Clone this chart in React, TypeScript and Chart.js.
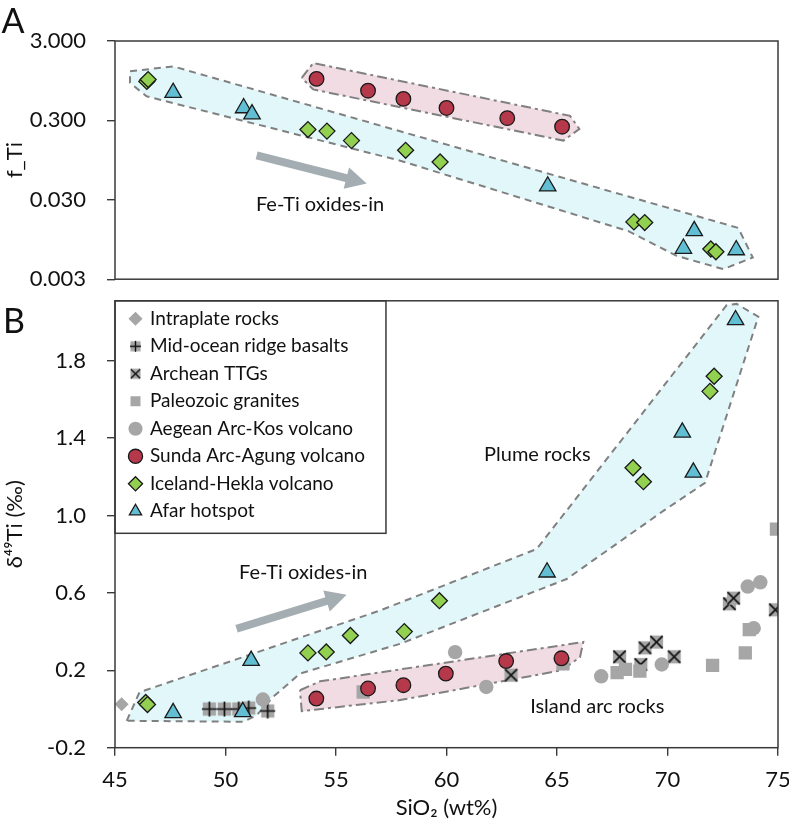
import React, { useEffect, useRef } from 'react';
import { Chart, registerables } from 'chart.js';
Chart.register(...registerables);

const FONT = 'Lato, "Open Sans", "DejaVu Sans", sans-serif';
Chart.defaults.font.family = FONT;
Chart.defaults.color = '#111';

// ---------- axes ----------
const SIO2_TICKS = [45, 50, 55, 60, 65, 70, 75];
const FTI_TICKS = [0.003, 0.03, 0.3, 3];
const D49_TICKS = [-0.2, 0.2, 0.6, 1.0, 1.4, 1.8];

// ---------- panel A : f_Ti ----------
const afarA_SiO2 = [47.63, 50.82, 51.2, 64.58, 70.72, 71.21, 73.11];
const afarA_fTi = [0.67, 0.43, 0.36, 0.0445, 0.0073, 0.0122, 0.007];
const icelandA_SiO2 = [46.44, 46.5, 53.73, 54.59, 55.7, 58.15, 59.71, 68.48, 68.97, 71.96, 72.19];
const icelandA_fTi = [0.93, 0.98, 0.23, 0.22, 0.167, 0.126, 0.09, 0.0158, 0.0155, 0.0072, 0.00665];
const sundaA_SiO2 = [54.12, 56.45, 58.05, 60.0, 62.75, 65.23];
const sundaA_fTi = [1.0, 0.71, 0.56, 0.43, 0.32, 0.25];

// ---------- panel B : d49Ti ----------
const intraplate_SiO2 = [45.3];
const intraplate_d49 = [0.025];
const morb_SiO2 = [49.27, 49.95, 50.6, 51.05, 51.91];
const morb_d49 = [0.0, 0.0, 0.0, 0.005, -0.01];
const archean_SiO2 = [62.92, 67.83, 68.79, 68.98, 69.5, 70.3, 72.8, 72.99, 74.88];
const archean_d49 = [0.175, 0.27, 0.23, 0.316, 0.346, 0.27, 0.544, 0.573, 0.513];
const paleozoic_SiO2 = [56.23, 65.27, 67.72, 68.1, 68.75, 72.04, 73.52, 73.7, 74.93];
const paleozoic_d49 = [0.088, 0.234, 0.188, 0.205, 0.196, 0.226, 0.29, 0.41, 0.93];
const aegean_SiO2 = [51.69, 60.39, 61.8, 67.0, 69.74, 73.63, 74.2, 73.9];
const aegean_d49 = [0.049, 0.294, 0.114, 0.169, 0.23, 0.633, 0.655, 0.418];
const sunda_SiO2 = [54.11, 56.45, 58.05, 59.97, 62.7, 65.2];
const sunda_d49 = [0.054, 0.106, 0.123, 0.183, 0.248, 0.262];
const iceland_SiO2 = [46.39, 46.47, 53.73, 54.56, 55.65, 58.09, 59.68, 68.44, 68.91, 71.92, 72.11];
const iceland_d49 = [0.034, 0.023, 0.29, 0.295, 0.38, 0.4, 0.56, 1.247, 1.175, 1.642, 1.72];
const afar_SiO2 = [47.63, 50.78, 51.16, 64.55, 70.67, 71.17, 73.08];
const afar_d49 = [-0.02, -0.015, 0.25, 0.707, 1.43, 1.223, 2.011];

// ---------- shaded fields ----------
const plumeA_SiO2 = [45.68, 47.64, 73.2, 73.86, 72.52, 70.42, 68.23, 57.9, 46.43, 45.68];
const plumeA_fTi = [1.245, 1.436, 0.01328, 0.005625, 0.00402, 0.0059, 0.01208, 0.0933, 0.603, 0.892];
const arcA_SiO2 = [53.45, 53.97, 65.59, 66.01, 65.29, 53.97];
const arcA_fTi = [1.03, 1.583, 0.342, 0.234, 0.167, 0.736];
const plumeB_SiO2 = [45.53, 46.11, 56.99, 64.08, 72.68, 73.13, 74.11, 71.7, 69.81, 65.44, 57.9, 53.37, 52.16, 51.41, 50.81];
const plumeB_d49 = [-0.061, 0.087, 0.509, 0.827, 2.088, 2.094, 2.028, 1.169, 1.024, 0.672, 0.337, 0.183, 0.063, -0.032, -0.066];
const arcB_SiO2 = [53.37, 54.28, 66.19, 66.04, 65.21, 57.9, 53.45];
const arcB_d49 = [0.097, 0.143, 0.346, 0.268, 0.2, 0.046, -0.011];

// ---------- annotations ----------
const arrowA = [[51.41, 0.109], [56.39, 0.0483]];
const arrowB = [[50.5, 0.415], [55.48, 0.59]];
const labelsA = [{ text: 'Fe-Ti oxides-in', x: 54.28, y: 0.026 }];
const labelsB = [
  { text: 'Fe-Ti oxides-in', x: 53.52, y: 0.706 },
  { text: 'Plume rocks', x: 64.11, y: 1.316 },
  { text: 'Island arc rocks', x: 66.82, y: 0.011 },
];

const C_GREEN = '#92d050';
const C_BLUE = '#62bfd3';
const C_RED = '#b5384b';
const C_GREY = '#a6a6a6';
const C_EDGE = '#1a1a1a';

const pts = (xs: number[], ys: number[]) => xs.map((x, i) => ({ x, y: ys[i] }));
const closed = (xs: number[], ys: number[]) => {
  const p = pts(xs, ys);
  return [...p, p[0]];
};

function crossMarker(kind: 'plus' | 'x', size: number) {
  const c = document.createElement('canvas');
  c.width = size; c.height = size;
  const g = c.getContext('2d')!;
  const sq = size * 0.78;
  const o = (size - sq) / 2;
  g.fillStyle = C_GREY;
  g.fillRect(o, o, sq, sq);
  g.strokeStyle = '#111';
  g.lineWidth = size > 14 ? 1.7 : 1.4;
  g.beginPath();
  const m = size / 2;
  if (kind === 'plus') {
    g.moveTo(m, 1); g.lineTo(m, size - 1);
    g.moveTo(1, m); g.lineTo(size - 1, m);
  } else {
    const a = o + 0.5, b = size - o - 0.5;
    g.moveTo(a, a); g.lineTo(b, b);
    g.moveTo(b, a); g.lineTo(a, b);
  }
  g.stroke();
  return c;
}

function region(data: any[], fill: string, dash: number[]) {
  return {
    type: 'line' as const,
    data,
    isRegion: true,
    fill: 'shape',
    backgroundColor: fill,
    borderColor: '#808080',
    borderWidth: 2,
    borderDash: dash,
    pointRadius: 0,
    tension: 0,
    order: 30,
  };
}

function drawArrow(ctx: CanvasRenderingContext2D, x1: number, y1: number, x2: number, y2: number) {
  const ang = Math.atan2(y2 - y1, x2 - x1);
  const L = Math.hypot(x2 - x1, y2 - y1);
  const headLen = 21, headW = 11, shaftW = 4;
  ctx.save();
  ctx.translate(x1, y1);
  ctx.rotate(ang);
  ctx.fillStyle = '#a3adb2';
  ctx.beginPath();
  ctx.moveTo(0, -shaftW);
  ctx.lineTo(L - headLen, -shaftW);
  ctx.lineTo(L - headLen, -headW);
  ctx.lineTo(L, 0);
  ctx.lineTo(L - headLen, headW);
  ctx.lineTo(L - headLen, shaftW);
  ctx.lineTo(0, shaftW);
  ctx.closePath();
  ctx.fill();
  ctx.restore();
}

function decorPlugin(opts: { letter: string; lx: number; ly: number; arrow: number[][]; labels: { text: string; x: number; y: number }[]; legendBox?: boolean }) {
  return {
    id: 'decor',
    beforeDraw(chart: any) {
      if (opts.legendBox && chart.legend) {
        chart.legend.left = chart.chartArea.left + 7;
        chart.legend.top = chart.chartArea.top;
      }
    },
    afterDraw(chart: any) {
      const { ctx, chartArea: a, scales } = chart;
      const xs = scales.x, ys = scales.y;
      ctx.save();
      ctx.strokeStyle = '#3a3a3a';
      ctx.lineWidth = 1.5;
      ctx.strokeRect(a.left, a.top, a.right - a.left, a.bottom - a.top);
      drawArrow(ctx, xs.getPixelForValue(opts.arrow[0][0]), ys.getPixelForValue(opts.arrow[0][1]),
        xs.getPixelForValue(opts.arrow[1][0]), ys.getPixelForValue(opts.arrow[1][1]));
      ctx.fillStyle = '#111';
      ctx.font = `20px ${FONT}`;
      ctx.textAlign = 'center';
      ctx.textBaseline = 'middle';
      for (const l of opts.labels) ctx.fillText(l.text, xs.getPixelForValue(l.x), ys.getPixelForValue(l.y));
      ctx.font = `34px ${FONT}`;
      ctx.fillText(opts.letter, opts.lx, opts.ly);
      if (opts.legendBox && chart.legend && chart.legend.legendItems?.length) {
        const lg = chart.legend;
        const items = lg.legendItems;
        const fs = 19, pad = 8.5, bw = 10;
        ctx.font = `${fs}px ${FONT}`;
        let maxW = 0;
        for (const it of items) maxW = Math.max(maxW, ctx.measureText(it.text).width);
        const right = lg.left + pad + bw + fs / 2 + maxW + 21;
        const bottom = a.top + pad + items.length * (fs + pad) + 4;
        ctx.strokeStyle = '#3a3a3a';
        ctx.lineWidth = 1.5;
        ctx.strokeRect(a.left, a.top, right - a.left, bottom - a.top);
      }
      ctx.restore();
    },
  };
}

const zeroPad = (s: any) => { s.paddingTop = 0; s.paddingBottom = 0; s.paddingLeft = 0; s.paddingRight = 0; };

const yAxisCommon = (title: string) => ({
  afterFit: (s: any) => { s.width = 115; zeroPad(s); },
  border: { display: false },
  grid: { display: true, drawOnChartArea: false, drawTicks: true, tickLength: 8, color: '#3a3a3a', lineWidth: 1.4 },
  title: { display: true, text: title, font: { size: 22 }, color: '#111', padding: { top: 2, bottom: 4 } },
});

function configA() {
  return {
    type: 'scatter' as const,
    data: {
      datasets: [
        { label: 'Iceland-Hekla volcano', data: pts(icelandA_SiO2, icelandA_fTi), pointStyle: 'rectRot', pointRadius: 8, backgroundColor: C_GREEN, borderColor: C_EDGE, borderWidth: 1.3, order: 2 },
        { label: 'Afar hotspot', data: pts(afarA_SiO2, afarA_fTi), pointStyle: 'triangle', pointRadius: 9.5, backgroundColor: C_BLUE, borderColor: C_EDGE, borderWidth: 1.3, order: 1 },
        { label: 'Sunda Arc-Agung volcano', data: pts(sundaA_SiO2, sundaA_fTi), pointStyle: 'circle', pointRadius: 7.3, backgroundColor: C_RED, borderColor: C_EDGE, borderWidth: 1.3, order: 3 },
        region(closed(plumeA_SiO2, plumeA_fTi), 'rgba(200,240,246,0.55)', [7, 5]),
        region(closed(arcA_SiO2, arcA_fTi), 'rgba(236,205,215,0.7)', [10, 4, 3, 4]),
      ] as any[],
    },
    options: {
      responsive: false,
      animation: false,
      devicePixelRatio: 1,
      events: [],
      layout: { padding: { left: 0, right: 11, top: 41, bottom: 8 } },
      plugins: { legend: { display: false }, tooltip: { enabled: false } },
      scales: {
        x: { type: 'linear', min: 45, max: 75, display: false, afterFit: zeroPad },
        y: {
          type: 'logarithmic', min: 0.003, max: 3,
          ...yAxisCommon('f_Ti'),
          afterBuildTicks: (s: any) => { s.ticks = FTI_TICKS.map((v) => ({ value: v })); },
          ticks: { font: { size: 22 }, color: '#111', padding: 21, callback: (v: any) => Number(v).toFixed(3) },
        },
      },
    },
    plugins: [decorPlugin({ letter: 'A', lx: 13, ly: 22, arrow: arrowA, labels: labelsA })],
  };
}

function configB() {
  const legendPlus = crossMarker('plus', 13);
  const legendX = crossMarker('x', 13);
  return {
    type: 'scatter' as const,
    data: {
      datasets: [
        { label: 'Intraplate rocks', data: pts(intraplate_SiO2, intraplate_d49), pointStyle: 'rectRot', pointRadius: 7, backgroundColor: C_GREY, borderColor: C_GREY, borderWidth: 0, order: 8 },
        { label: 'Mid-ocean ridge basalts', data: pts(morb_SiO2, morb_d49), pointStyle: crossMarker('plus', 17), legendStyle: legendPlus, pointRadius: 8, backgroundColor: C_GREY, borderColor: '#111', borderWidth: 0, order: 7 },
        { label: 'Archean TTGs', data: pts(archean_SiO2, archean_d49), pointStyle: crossMarker('x', 17), legendStyle: legendX, pointRadius: 8, backgroundColor: C_GREY, borderColor: '#111', borderWidth: 0, order: 6 },
        { label: 'Paleozoic granites', data: pts(paleozoic_SiO2, paleozoic_d49), pointStyle: 'rect', pointRadius: 9.4, backgroundColor: C_GREY, borderColor: C_GREY, borderWidth: 0, order: 5 },
        { label: 'Aegean Arc-Kos volcano', data: pts(aegean_SiO2, aegean_d49), pointStyle: 'circle', pointRadius: 7.2, backgroundColor: C_GREY, borderColor: C_GREY, borderWidth: 0, order: 4 },
        { label: 'Sunda Arc-Agung volcano', data: pts(sunda_SiO2, sunda_d49), pointStyle: 'circle', pointRadius: 7.3, backgroundColor: C_RED, borderColor: C_EDGE, borderWidth: 1.3, order: 3 },
        { label: 'Iceland-Hekla volcano', data: pts(iceland_SiO2, iceland_d49), pointStyle: 'rectRot', pointRadius: 8, backgroundColor: C_GREEN, borderColor: C_EDGE, borderWidth: 1.3, order: 2 },
        { label: 'Afar hotspot', data: pts(afar_SiO2, afar_d49), pointStyle: 'triangle', pointRadius: 9.5, backgroundColor: C_BLUE, borderColor: C_EDGE, borderWidth: 1.3, order: 1 },
        region(closed(plumeB_SiO2, plumeB_d49), 'rgba(200,240,246,0.55)', [7, 5]),
        region(closed(arcB_SiO2, arcB_d49), 'rgba(236,205,215,0.7)', [10, 4, 3, 4]),
      ] as any[],
    },
    options: {
      responsive: false,
      animation: false,
      devicePixelRatio: 1,
      events: [],
      layout: { padding: { left: 0, right: 11, top: 9, bottom: 0 } },
      plugins: {
        tooltip: { enabled: false },
        legend: {
          display: true,
          position: 'chartArea',
          align: 'start',
          labels: {
            usePointStyle: true,
            boxWidth: 10,
            boxHeight: 10,
            padding: 8.5,
            color: '#111',
            font: { size: 19 },
            sort: (a: any, b: any) => a.datasetIndex - b.datasetIndex,
            generateLabels: (chart: any) => {
              const items = (Chart.defaults.plugins.legend.labels as any).generateLabels(chart);
              return items
                .filter((it: any) => !chart.data.datasets[it.datasetIndex].isRegion)
                .map((it: any) => {
                  const ds = chart.data.datasets[it.datasetIndex];
                  if (ds.legendStyle) it.pointStyle = ds.legendStyle;
                  it.fontColor = '#111';
                  return it;
                });
            },
          },
        },
      },
      scales: {
        x: {
          type: 'linear', min: 45, max: 75,
          afterFit: (s: any) => { s.height = 77.3; zeroPad(s); },
          afterBuildTicks: (s: any) => { s.ticks = SIO2_TICKS.map((v) => ({ value: v })); },
          border: { display: false },
          grid: { display: true, drawOnChartArea: false, drawTicks: true, tickLength: 8, color: '#3a3a3a', lineWidth: 1.4 },
          ticks: { font: { size: 22 }, color: '#111', padding: 11 },
          title: { display: true, text: 'SiO₂ (wt%)', font: { size: 22 }, color: '#111', padding: { top: 0, bottom: 4 } },
        },
        y: {
          type: 'linear', min: -0.2, max: 2.11,
          ...yAxisCommon('δ⁴⁹Ti (‰)'),
          afterBuildTicks: (s: any) => { s.ticks = D49_TICKS.map((v) => ({ value: v })); },
          ticks: { font: { size: 22 }, color: '#111', padding: 21, callback: (v: any) => Number(v).toFixed(1) },
        },
      },
    },
    plugins: [decorPlugin({ letter: 'B', lx: 14, ly: 32, arrow: arrowB, labels: labelsB, legendBox: true })],
  };
}

function ChartCanvas({ make, top, height }: { make: () => any; top: number; height: number }) {
  const ref = useRef<HTMLCanvasElement>(null);
  useEffect(() => {
    const chart = new Chart(ref.current as HTMLCanvasElement, make());
    return () => chart.destroy();
  }, []);
  return (
    <canvas
      ref={ref}
      width={789}
      height={height}
      style={{ position: 'absolute', left: 0, top, width: 789, height, display: 'block' }}
    />
  );
}

export default function App() {
  return (
    <div style={{ position: 'absolute', left: 0, top: 0, width: 789, height: 825, background: '#fff', overflow: 'hidden' }}>
      <ChartCanvas make={configA} top={0} height={290} />
      <ChartCanvas make={configB} top={290} height={535} />
    </div>
  );
}
